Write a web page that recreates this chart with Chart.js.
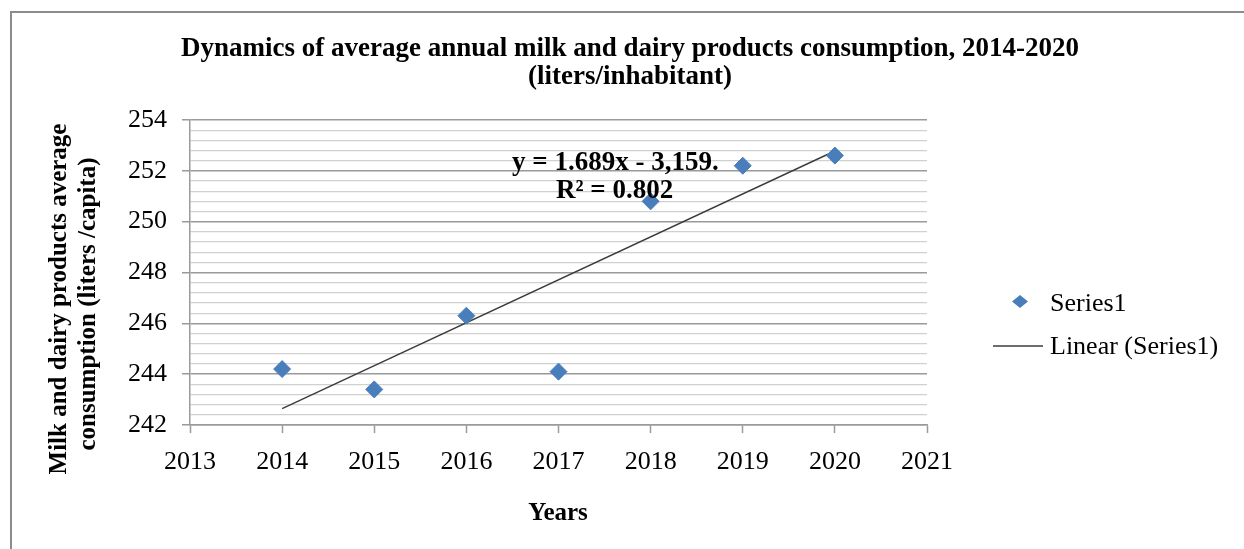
<!DOCTYPE html>
<html>
<head>
<meta charset="utf-8">
<title>Milk and dairy products consumption</title>
<script src="https://cdn.jsdelivr.net/npm/chart.js@4/dist/chart.umd.min.js"></script>
<style>
  html, body { margin: 0; padding: 0; background: #ffffff; }
  #wrap { width: 1244px; height: 549px; position: relative; }
  canvas { display: block; }
</style>
</head>
<body>
<div id="wrap"><canvas id="chart" width="1244" height="549"></canvas></div>
<script>
// Yearly observations (liters per inhabitant)
const years = [2014, 2015, 2016, 2017, 2018, 2019, 2020];
const consumption = [244.2, 243.4, 246.3, 244.1, 250.8, 252.2, 252.6];

// Linear trendline as printed on the chart: y = slope * year + intercept
const trendSlope = 1.689;
const trendIntercept = -3159;
const trendLabel = ['y = 1.689x - 3,159.', 'R\u00b2 = 0.802'];

// Axis ranges and tick steps
const xRange = [2013, 2021];
const yRange = [242, 254];
const yMajorStep = 2;
const yMinorStep = 0.4;

const titleLines = ['Dynamics of average annual milk and dairy products consumption, 2014-2020', '(liters/inhabitant)'];
const yTitleLines = ['Milk and dairy products average', 'consumption (liters /capita)'];
const xTitle = 'Years';
const seriesName = 'Series1';
const trendName = 'Linear (Series1)';

const SERIF = "'Liberation Serif', 'Times New Roman', serif";
const POINT_COLOR = '#4a7ebb';
const TREND_COLOR = '#3c3c3c';
const MAJOR_GRID = '#9a9a9a';
const MINOR_GRID = '#d0d0d0';

const isMajor = v => Math.abs(v / yMajorStep - Math.round(v / yMajorStep)) < 1e-6;

const trendPoints = [years[0], years[years.length - 1]].map(x => ({ x: x, y: trendSlope * x + trendIntercept }));

// Frame, titles, trendline equation and legend
const decorations = {
  id: 'decorations',
  beforeDraw(chart) {
    const ctx = chart.ctx;
    ctx.save();
    ctx.fillStyle = '#ffffff';
    ctx.fillRect(0, 0, chart.width, chart.height);
    ctx.strokeStyle = '#8c8c8c';
    ctx.lineWidth = 2;
    ctx.beginPath();
    ctx.moveTo(11, chart.height);
    ctx.lineTo(11, 12);
    ctx.lineTo(chart.width, 12);
    ctx.stroke();
    ctx.restore();
  },
  afterDraw(chart) {
    const ctx = chart.ctx;
    ctx.save();
    ctx.fillStyle = '#000000';
    ctx.textBaseline = 'alphabetic';

    // chart title
    ctx.textAlign = 'center';
    ctx.font = 'bold 27px ' + SERIF;
    ctx.fillText(titleLines[0], 630, 56);
    ctx.fillText(titleLines[1], 630, 84);

    // x axis title
    ctx.font = 'bold 25px ' + SERIF;
    ctx.fillText(xTitle, 558, 520);

    // y axis title (rotated)
    ctx.save();
    ctx.translate(66, 299);
    ctx.rotate(-Math.PI / 2);
    ctx.fillText(yTitleLines[0], 0, 0);
    ctx.restore();
    ctx.save();
    ctx.translate(95, 304);
    ctx.rotate(-Math.PI / 2);
    ctx.fillText(yTitleLines[1], 0, 0);
    ctx.restore();

    // trendline equation
    ctx.textAlign = 'left';
    ctx.font = 'bold 27px ' + SERIF;
    ctx.fillText(trendLabel[0], 512, 170);
    ctx.fillText(trendLabel[1], 556, 198);

    // legend
    ctx.fillStyle = POINT_COLOR;
    ctx.beginPath();
    ctx.moveTo(1020, 295);
    ctx.lineTo(1028, 301.5);
    ctx.lineTo(1020, 308);
    ctx.lineTo(1012, 301.5);
    ctx.closePath();
    ctx.fill();
    ctx.strokeStyle = TREND_COLOR;
    ctx.lineWidth = 1.3;
    ctx.beginPath();
    ctx.moveTo(993, 346);
    ctx.lineTo(1043, 346);
    ctx.stroke();
    ctx.fillStyle = '#000000';
    ctx.font = '26px ' + SERIF;
    ctx.fillText(seriesName, 1050, 311);
    ctx.fillText(trendName, 1050, 354);
    ctx.restore();
  }
};

new Chart(document.getElementById('chart'), {
  type: 'scatter',
  data: {
    datasets: [
      {
        label: trendName,
        type: 'line',
        data: trendPoints,
        borderColor: TREND_COLOR,
        borderWidth: 1.4,
        pointRadius: 0,
        fill: false,
        order: 2
      },
      {
        label: seriesName,
        data: years.map((x, i) => ({ x: x, y: consumption[i] })),
        pointStyle: 'rectRot',
        pointRadius: 8.5,
        pointBackgroundColor: POINT_COLOR,
        pointBorderColor: POINT_COLOR,
        pointBorderWidth: 1,
        order: 1
      }
    ]
  },
  options: {
    responsive: false,
    devicePixelRatio: 1,
    animation: false,
    layout: { padding: { left: 0, top: 120, right: 317, bottom: 0 } },
    plugins: {
      legend: { display: false },
      title: { display: false },
      tooltip: { enabled: false }
    },
    scales: {
      x: {
        type: 'linear',
        min: xRange[0],
        max: xRange[1],
        afterFit(scale) { scale.height = 124; },
        ticks: {
          stepSize: 1,
          padding: 14,
          color: '#000000',
          font: { family: SERIF, size: 26 },
          callback: v => String(v)
        },
        grid: {
          drawOnChartArea: false,
          tickLength: 8,
          tickColor: MAJOR_GRID,
          tickWidth: 1.5
        },
        border: { color: MAJOR_GRID, width: 1.5 }
      },
      y: {
        type: 'linear',
        min: yRange[0],
        max: yRange[1],
        afterFit(scale) { scale.width = 190; },
        ticks: {
          stepSize: yMinorStep,
          autoSkip: false,
          padding: 15,
          color: '#000000',
          font: { family: SERIF, size: 26 },
          callback: v => (isMajor(v) ? String(Math.round(v)) : '')
        },
        grid: {
          tickLength: 8,
          color: ctx => (isMajor(ctx.tick.value) ? MAJOR_GRID : MINOR_GRID),
          lineWidth: ctx => (isMajor(ctx.tick.value) ? 1.5 : 1.2),
          tickColor: ctx => (isMajor(ctx.tick.value) ? MAJOR_GRID : 'rgba(0,0,0,0)'),
          tickWidth: 1.5
        },
        border: { color: MAJOR_GRID, width: 1.5 }
      }
    }
  },
  plugins: [decorations]
});
</script>
</body>
</html>
